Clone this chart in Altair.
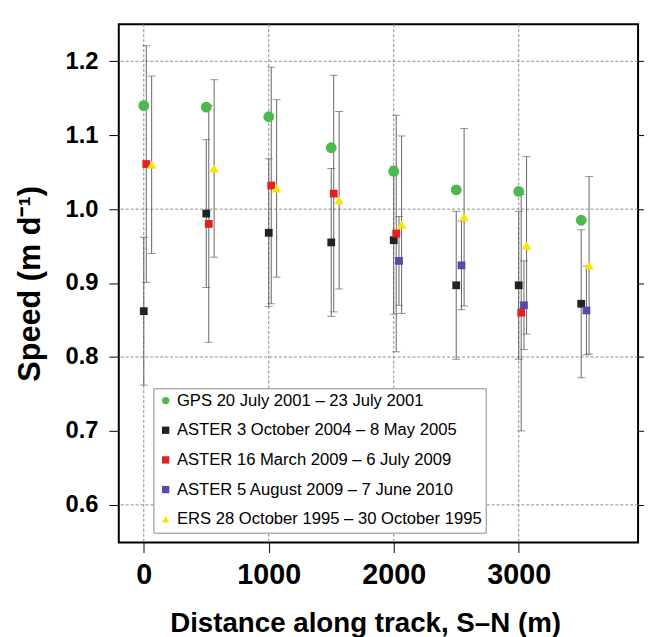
import altair as alt
import pandas as pd

# ---- data ----
series_names = [
    "GPS 20 July 2001 – 23 July 2001",
    "ASTER 3 October 2004 – 8 May 2005",
    "ASTER 16 March 2009 – 6 July 2009",
    "ASTER 5 August 2009 – 7 June 2010",
    "ERS 28 October 1995 – 30 October 1995",
]
series_colors = ["#4db84d", "#222222", "#e02222", "#5a4aa6", "#f7e600"]
series_shapes = ["circle", "square", "square", "square", "triangle-up"]
series_sizes = [120, 62, 62, 62, 90]

gps_x = [0, 500, 1000, 1500, 2000, 2500, 3000, 3500]
gps_v = [1.140, 1.138, 1.125, 1.083, 1.051, 1.026, 1.024, 0.985]

aster05_x = [0, 500, 1000, 1500, 2000, 2500, 3000, 3500]
aster05_v = [0.862, 0.994, 0.968, 0.955, 0.958, 0.897, 0.897, 0.872]
aster05_err = 0.10

aster09a_x = [20, 520, 1020, 1520, 2020, 3020]
aster09a_v = [1.061, 0.980, 1.032, 1.021, 0.967, 0.860]
aster09a_err = 0.16

aster09b_x = [2042, 2542, 3042, 3542]
aster09b_v = [0.930, 0.924, 0.870, 0.863]
aster09b_err = 0.06

ers_x = [63, 563, 1063, 1563, 2063, 2563, 3063, 3563]
ers_v = [1.060, 1.055, 1.028, 1.012, 0.979, 0.989, 0.951, 0.924]
ers_err = 0.12

x_ticks = [0, 1000, 2000, 3000]
y_ticks = [0.6, 0.7, 0.8, 0.9, 1.0, 1.1, 1.2]
y_grid = [0.6, 0.8, 1.0, 1.2]
x_domain = [-200, 3955]
y_domain = [0.549, 1.25]

# ---- build tables ----
rows = []
for k, (name, xs_, vs, err) in enumerate([
    (series_names[0], gps_x, gps_v, None),
    (series_names[1], aster05_x, aster05_v, aster05_err),
    (series_names[2], aster09a_x, aster09a_v, aster09a_err),
    (series_names[3], aster09b_x, aster09b_v, aster09b_err),
    (series_names[4], ers_x, ers_v, ers_err),
]):
    for x, v in zip(xs_, vs):
        rows.append({
            "series": name, "idx": k, "x": x, "v": v,
            "lo": None if err is None else v - err,
            "hi": None if err is None else v + err,
        })
df = pd.DataFrame(rows)
df_err = df.dropna(subset=["lo"])

FONT = "Liberation Sans"
xs = alt.Scale(domain=x_domain, nice=False, zero=False)
ys = alt.Scale(domain=y_domain, nice=False, zero=False)

xaxis = alt.Axis(
    values=x_ticks, format="d", title="Distance along track, S–N (m)",
    labelFontSize=29, labelFontWeight="bold", labelFont=FONT, labelColor="black",
    labelPadding=8, tickSize=10, tickColor="black", tickWidth=1,
    domain=False, grid=False, labelFlush=False,
    titleFontSize=28, titleFontWeight="bold", titleFont=FONT, titleColor="black",
    titlePadding=21, titleX=249,
)
yaxis = alt.Axis(
    values=y_ticks, format=".1f", title="Speed (m d⁻¹)",
    labelFontSize=24, labelFontWeight="bold", labelFont=FONT, labelColor="black",
    labelPadding=11, tickSize=10, tickColor="black", tickWidth=1,
    domain=False, grid=False, labelFlush=False,
    titleFontSize=31, titleFontWeight="bold", titleFont=FONT, titleColor="black",
    titlePadding=19,
)

xgrid = alt.Chart(pd.DataFrame({"x": x_ticks})).mark_rule(
    color="#8c8c8c", strokeDash=[3, 2], strokeWidth=1
).encode(x=alt.X("x:Q", scale=xs, axis=xaxis))

ygrid = alt.Chart(pd.DataFrame({"g": y_grid})).mark_rule(
    color="#8c8c8c", strokeDash=[3, 2], strokeWidth=1
).encode(y=alt.Y("g:Q", scale=ys, axis=yaxis))

bars = alt.Chart(df_err).mark_rule(color="#555555", strokeWidth=0.9).encode(
    x=alt.X("x:Q", scale=xs, axis=xaxis),
    y=alt.Y("lo:Q", scale=ys, axis=None),
    y2="hi:Q",
)
cap_lo = alt.Chart(df_err).mark_tick(
    orient="horizontal", size=8, thickness=0.9, color="#555555"
).encode(x=alt.X("x:Q", scale=xs, axis=xaxis), y=alt.Y("lo:Q", scale=ys, axis=None))
cap_hi = alt.Chart(df_err).mark_tick(
    orient="horizontal", size=8, thickness=0.9, color="#555555"
).encode(x=alt.X("x:Q", scale=xs, axis=xaxis), y=alt.Y("hi:Q", scale=ys, axis=None))

color_scale = alt.Scale(domain=series_names, range=series_colors)
shape_scale = alt.Scale(domain=series_names, range=series_shapes)
legend = alt.Legend(
    title=None, orient="none", legendX=35, legendY=368,
    fillColor="white", strokeColor="#8a8a8a", padding=4,
    labelFont=FONT, labelFontSize=16.8, labelColor="black",
    rowPadding=12, symbolSize=55, labelOffset=3, labelLimit=500,
)

point_layers = []
for k, name in enumerate(series_names):
    point_layers.append(
        alt.Chart(df[df["series"] == name]).mark_point(
            filled=True, opacity=1, strokeWidth=0, size=series_sizes[k]
        ).encode(
            x=alt.X("x:Q", scale=xs, axis=xaxis),
            y=alt.Y("v:Q", scale=ys, axis=None),
            color=alt.Color("series:N", scale=color_scale, legend=legend),
            shape=alt.Shape("series:N", scale=shape_scale, legend=legend),
        )
    )

right_axis = alt.Chart(pd.DataFrame({"g": y_ticks})).mark_rule(opacity=0).encode(
    y=alt.Y("g:Q", scale=ys, axis=alt.Axis(
        orient="right", values=y_ticks, labels=False, title=None, tickSize=7,
        tickColor="black", tickWidth=1, domain=False, grid=False)),
)

chart = alt.layer(
    xgrid, ygrid, bars, cap_lo, cap_hi, *point_layers, right_axis
).resolve_axis(y="independent").properties(
    width=525, height=524,
    autosize=alt.AutoSizeParams(type="none"),
    padding={"left": 112, "top": 13, "right": 6, "bottom": 95},
).configure(background="white").configure_view(stroke="black", strokeWidth=2)

chart.save("out.html", embed_options={"renderer": "svg", "actions": False})
